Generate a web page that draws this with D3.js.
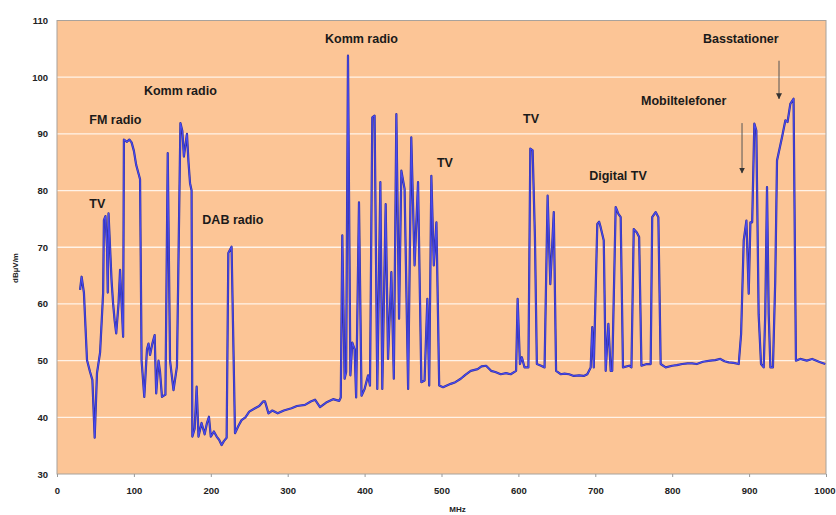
<!DOCTYPE html>
<html>
<head>
<meta charset="utf-8">
<script src="https://cdn.jsdelivr.net/npm/d3@7"></script>
<style>
  body { margin: 0; background: #fff; }
  text { font-family: "Liberation Sans", Arial, sans-serif; }
</style>
</head>
<body>
<div id="container"></div>
<script>
// frequency in MHz, level in dBµV/m
const freq = [30, 32, 35, 39, 43, 46, 49, 52, 56, 60, 61, 63, 65, 66, 67, 69, 71, 73, 75, 77, 80, 82, 84, 86, 87, 91, 94, 97, 100, 103, 106, 108,
  110, 113.5, 117, 119, 121, 124, 127, 129, 132, 134, 136.5, 141, 144, 147, 151.5, 156, 160.5, 163, 165, 167, 169, 171, 173, 175,
  176, 179, 181.6, 184, 188, 192, 195, 197.6, 200, 204, 207.6, 211, 214, 217, 220.6, 222.8, 227, 231.5, 236, 240, 245, 250, 257.5,
  263, 268, 270.5, 275, 280, 287, 295, 305, 312, 322.5, 330, 335.5, 342, 350, 359, 367, 369, 371, 374, 376, 378.4, 381.5, 384, 387,
  389, 392.7, 396, 400, 404.5, 407, 410, 413, 416.5, 420.5, 423, 427.4, 430.5, 434.8, 438, 441.3, 444.8, 447.8, 452, 456.6, 460.7,
  465, 469.5, 473.8, 478, 481.6, 484, 486.8, 490, 493.4, 497, 502, 507, 512, 518, 525, 531, 538, 547, 552, 558, 564.5, 570, 577,
  584, 590, 597, 599, 602, 604.5, 608, 613, 615.5, 618.5, 621.5, 624, 629.5, 634, 638, 641.5, 646, 649, 655, 660, 666, 672, 679,
  685, 689.6, 694, 696, 698, 702.6, 705, 707, 711, 713.5, 717, 720, 722, 726.5, 730, 733, 736, 744, 747, 750, 754, 757, 760, 767,
  772, 774, 778.5, 782, 785, 791.5, 800, 806, 813, 820, 826, 832, 840, 849.5, 856, 862.6, 868, 873.5, 880, 886.5, 889.6, 893,
  896.5, 899.5, 901.7, 904, 906.8, 909.4, 912.4, 915.5, 919, 921, 923.3, 925.5, 927.7, 931, 934, 936.3, 942.8, 947.2, 950, 953.6,
  957.8, 960.9, 966.5, 975, 982, 992.5, 999];
const level = [62.5, 64.8, 62, 50.1, 48, 46.6, 36.4, 47.8, 51.4, 62, 74.8, 75.5, 70, 62, 76, 70, 64, 60, 57, 54.8, 60, 66, 60, 54.2, 89, 88.6, 89, 88.5, 87, 84.5, 83, 82,
  50, 43.6, 52, 53, 51, 53, 54.5, 44.2, 50, 48, 43.6, 44, 86.6, 50, 44.8, 49, 91.9, 90.5, 86, 88, 90, 85, 81.3, 80,
  36.6, 38, 45.4, 36.6, 39, 37, 39, 40.1, 36.6, 37.5, 36.6, 36, 35.1, 35.8, 36.4, 69, 70.1, 37.2, 38.5, 39.5, 40, 41, 41.6,
  42, 42.8, 42.8, 40.7, 41.2, 40.7, 41.2, 41.6, 42, 42.2, 42.8, 43.1, 41.8, 42.6, 43.2, 42.9, 43.5, 72.1, 46.8, 48, 103.8, 47.4, 53.2, 52,
  43.5, 77.9, 43.8, 45, 47.4, 45.6, 92.9, 93.2, 45, 81.5, 45, 77.6, 50.3, 65.6, 46.8, 93.5, 57.4, 83.5, 80.3, 45, 89.4,
  66.8, 81.5, 46.2, 46.5, 60.9, 45.6, 82.6, 66.8, 74.4, 45.6, 45.3, 45.6, 45.9, 46.2, 46.8, 47.5, 48.2, 48.5, 49, 49.1, 48.2, 48, 47.6,
  47.8, 47.6, 48.2, 60.9, 49.4, 50.6, 48.8, 48.8, 87.4, 87.1, 71.8, 49.4, 49.1, 48.8, 79.1, 63.5, 76.2, 48.2, 47.6, 47.7, 47.6, 47.3, 47.4,
  47.3, 47.6, 48.8, 55.9, 48.8, 74.1, 74.5, 73.5, 71.2, 48.2, 56.5, 48.2, 48.2, 77.1, 75.9, 75.3, 48.8, 49.1, 48.8, 73.2, 72.6, 71.8, 49.1, 49.4,
  49.4, 75.3, 76.2, 75.3, 49.4, 48.8, 49.1, 49.2, 49.4, 49.5, 49.5, 49.4, 49.8, 50, 50.1, 50.3, 49.9, 49.7, 49.6, 49.4, 54.7, 71.2,
  74.7, 61.8, 74.4, 74.4, 91.8, 90.6, 58.2, 49.4, 48.8, 58.2, 80.6, 58.2, 48.8, 48.8, 64.1, 85.3, 89.4, 92.4, 92.1, 95.3,
  96.2, 50, 50.3, 50, 50.3, 49.7, 49.4];

const xTicks = [0, 100, 200, 300, 400, 500, 600, 700, 800, 900, 1000];
const yTicks = [30, 40, 50, 60, 70, 80, 90, 100, 110];

// labels: text, MHz, dBµV/m (left baseline)
const labelText = ["TV", "FM radio", "Komm radio", "DAB radio", "Komm radio", "TV", "TV", "Digital TV", "Mobiltelefoner", "Basstationer"];
const labelFreq = [42, 42, 113, 189, 348.5, 494, 606, 692, 759.4, 840];
const labelLevel = [76.9, 91.75, 96.9, 74.1, 106, 84.2, 91.9, 81.9, 95.1, 106];

// arrows: MHz, from level, to level
const arrowFreq = [890.8, 938.9];
const arrowFrom = [91.9, 102.9];
const arrowTo = [83.1, 96.2];

const config = {
    width: 836,
    height: 515,
    marginLeft: 57,
    marginRight: 10,
    marginTop: 20.5,
    marginBottom: 41,
}
const innerW = config.width - config.marginLeft - config.marginRight
const innerH = config.height - config.marginTop - config.marginBottom

const svg = d3.select('#container')
    .append('svg')
    .attr('width', config.width)
    .attr('height', config.height)

const g = svg.append('g')
    .attr('transform', `translate(${config.marginLeft},${config.marginTop})`)

const xScale = d3.scaleLinear().domain([0, 1000]).range([0, innerW])
const yScale = d3.scaleLinear().domain([30, 110]).range([innerH, 0])

g.append('rect')
    .attr('width', innerW)
    .attr('height', innerH)
    .attr('fill', '#fcc596')

g.append('g')
    .selectAll('line')
    .data(yTicks.slice(1, -1))
    .join('line')
    .attr('x1', 0)
    .attr('x2', innerW)
    .attr('y1', d => yScale(d))
    .attr('y2', d => yScale(d))
    .attr('stroke', '#fff3e8')
    .attr('stroke-width', 1.3)

g.append('rect')
    .attr('width', innerW)
    .attr('height', innerH)
    .attr('fill', 'none')
    .attr('stroke', '#a8a29c')

const xAxis = g.append('g')
    .attr('transform', `translate(0,${innerH})`)
    .call(d3.axisBottom(xScale).tickValues(xTicks).tickFormat(d3.format('d')).tickSize(3).tickPadding(10))
const yAxis = g.append('g')
    .call(d3.axisLeft(yScale).tickValues(yTicks).tickSize(0).tickPadding(9))

for (const ax of [xAxis, yAxis]) {
    ax.select('.domain').remove()
    ax.selectAll('.tick line').attr('stroke', '#999')
    ax.selectAll('.tick text')
        .style('font-family', '"Liberation Sans", Arial, sans-serif')
        .style('font-size', '9.5px')
        .style('font-weight', 'bold')
        .attr('fill', '#222')
}
// keep the last label inside the picture
xAxis.selectAll('.tick text').filter(d => d === 1000).attr('text-anchor', 'end').attr('dx', 9)

svg.append('text')
    .attr('x', config.marginLeft + innerW / 2 + 16)
    .attr('y', 512)
    .attr('text-anchor', 'middle')
    .style('font-size', '8px')
    .style('font-weight', 'bold')
    .attr('fill', '#222')
    .text('MHz')

svg.append('text')
    .attr('transform', 'translate(18,268) rotate(-90)')
    .attr('text-anchor', 'middle')
    .style('font-size', '8px')
    .style('font-weight', 'bold')
    .attr('fill', '#222')
    .text('dBµV/m')

const points = freq.map((f, i) => [f, level[i]])
const line = d3.line().x(d => xScale(d[0])).y(d => yScale(d[1]))

g.append('path')
    .datum(points)
    .attr('d', line)
    .attr('fill', 'none')
    .attr('stroke', '#2f2f9e')
    .attr('stroke-width', 2.2)
    .attr('stroke-linejoin', 'round')
g.append('path')
    .datum(points)
    .attr('d', line)
    .attr('fill', 'none')
    .attr('stroke', '#4a4af0')
    .attr('stroke-width', 1.1)
    .attr('stroke-linejoin', 'round')

g.append('g')
    .selectAll('text')
    .data(labelText)
    .join('text')
    .attr('x', (_, i) => xScale(labelFreq[i]))
    .attr('y', (_, i) => yScale(labelLevel[i]))
    .style('font-size', '12.5px')
    .style('font-weight', 'bold')
    .attr('fill', '#1a1a1a')
    .text(d => d)

svg.append('defs').append('marker')
    .attr('id', 'head')
    .attr('viewBox', '0 0 10 10')
    .attr('refX', 9)
    .attr('refY', 5)
    .attr('markerWidth', 6)
    .attr('markerHeight', 6)
    .attr('orient', 'auto')
    .append('path')
    .attr('d', 'M0,0 L10,5 L0,10 Z')
    .attr('fill', '#333')

g.append('g')
    .selectAll('line')
    .data(arrowFreq)
    .join('line')
    .attr('x1', d => xScale(d))
    .attr('x2', d => xScale(d))
    .attr('y1', (_, i) => yScale(arrowFrom[i]))
    .attr('y2', (_, i) => yScale(arrowTo[i]))
    .attr('stroke', '#555')
    .attr('stroke-width', 1)
    .attr('marker-end', 'url(#head)')
</script>
</body>
</html>
